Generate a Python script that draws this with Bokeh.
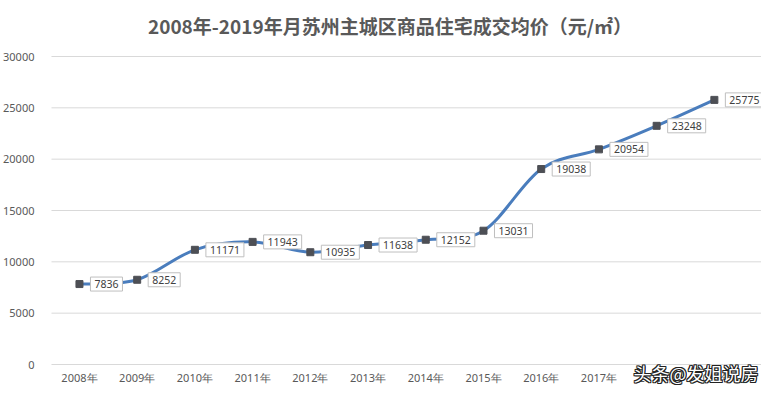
from bokeh.plotting import figure
from bokeh.models import Range1d, FixedTicker, NumeralTickFormatter, ColumnDataSource, Label
from bokeh.core.properties import value
from bokeh.embed import file_html
from bokeh.resources import INLINE

years = ["2008年", "2009年", "2010年", "2011年", "2012年", "2013年", "2014年",
         "2015年", "2016年", "2017年", "2018年", "2019年"]
prices = [7836, 8252, 11171, 11943, 10935, 11638, 12152, 13031, 19038, 20954, 23248, 25775]
y_ticks = [0, 5000, 10000, 15000, 20000, 25000, 30000]
title_text = "2008年-2019年月苏州主城区商品住宅成交均价（元/㎡）"
watermark = "头条@发姐说房"

xs = list(range(len(years)))

# Smooth (Catmull-Rom style) bezier segments derived from the data
x0, y0, x1, y1, cx0, cy0, cx1, cy1 = [], [], [], [], [], [], [], []
n = len(xs)
for i in range(n - 1):
    pm = i - 1 if i > 0 else i
    pp = i + 2 if i + 2 < n else i + 1
    x0.append(xs[i]); y0.append(prices[i])
    x1.append(xs[i + 1]); y1.append(prices[i + 1])
    cx0.append(xs[i] + (xs[i + 1] - xs[pm]) / 6.0)
    cy0.append(prices[i] + (prices[i + 1] - prices[pm]) / 6.0)
    cx1.append(xs[i + 1] - (xs[pp] - xs[i]) / 6.0)
    cy1.append(prices[i + 1] - (prices[pp] - prices[i]) / 6.0)

W, H = 761, 387
FL = 48                 # frame left (px)
SP = 57.8               # px per category
CX0 = 78                # px of first category
Y0PX, Y30PX = 364, 56   # px of value 0 and 30000
YPX = (Y0PX - Y30PX) / 30000

def dx(px):
    return (px - CX0) / SP

def dy(py):
    return (Y0PX - py) / YPX

x_start, x_end = dx(FL), dx(W)
y_start, y_end = dy(H), dy(0)

p = figure(width=W, height=H, output_backend="svg", toolbar_location=None,
           x_range=Range1d(x_start, x_end), y_range=Range1d(y_start, y_end),
           min_border_left=FL, min_border_right=0, min_border_top=0, min_border_bottom=0)
p.background_fill_color = "white"
p.border_fill_color = "white"
p.outline_line_color = None
p.xgrid.grid_line_color = None
p.ygrid.grid_line_color = None
p.xaxis.visible = False

ya = p.yaxis[0]
ya.axis_line_color = None
ya.major_tick_line_color = None
ya.minor_tick_line_color = None
ya.major_label_text_color = "#595959"
ya.major_label_text_font = "Noto Sans"
ya.major_label_text_font_size = "11px"
ya.ticker = FixedTicker(ticks=y_ticks)
ya.formatter = NumeralTickFormatter(format="0")
ya.major_label_standoff = 9

# horizontal gridlines
p.segment(x0=[dx(50)] * len(y_ticks), x1=[x_end] * len(y_ticks), y0=y_ticks, y1=y_ticks,
          line_color="#d9d9d9", line_width=1)

# category labels
p.text(x=xs, y=[dy(377)] * len(xs), text=years, text_align="center", text_baseline="middle",
       text_font=value("Noto Sans"), text_font_size="11px", text_color="#595959")

p.bezier(x0=x0, y0=y0, x1=x1, y1=y1, cx0=cx0, cy0=cy0, cx1=cx1, cy1=cy1,
         line_color="#4a7dbd", line_width=3)

src = ColumnDataSource(dict(x=xs, y=prices))
p.scatter("x", "y", source=src, marker="square", size=7, fill_color="#4d4f55", line_color="#4d4f55")

for xv, yv in zip(xs, prices):
    p.add_layout(Label(x=xv, y=yv, text=str(yv), x_offset=11, y_offset=0,
                       text_align="left", text_baseline="middle",
                       text_font="Noto Sans", text_font_size="10.5px", text_color="#404040",
                       background_fill_color="white", border_line_color="#bfbfbf",
                       border_line_width=1, padding=(4, 3)))

p.add_layout(Label(x=dx(389), y=dy(25), text=title_text,
                   text_align="center", text_baseline="middle",
                   text_font="Noto Sans CJK SC", text_font_style="bold", text_font_size="19px",
                   text_color="#595959"))

wx, wy = dx(758), dy(372)
for ox, oy in [(-1, 0), (1, 0), (0, -1), (0, 1), (-1, -1), (1, 1), (-1, 1), (1, -1)]:
    p.add_layout(Label(x=wx, y=wy, x_offset=ox, y_offset=oy, text=watermark,
                       text_align="right", text_baseline="middle",
                       text_font="Noto Sans CJK SC", text_font_size="18px", text_color="#222222"))
p.add_layout(Label(x=wx, y=wy, text=watermark,
                   text_align="right", text_baseline="middle",
                   text_font="Noto Sans CJK SC", text_font_size="18px", text_color="white"))

open("out.html", "w").write(file_html(p, INLINE))
